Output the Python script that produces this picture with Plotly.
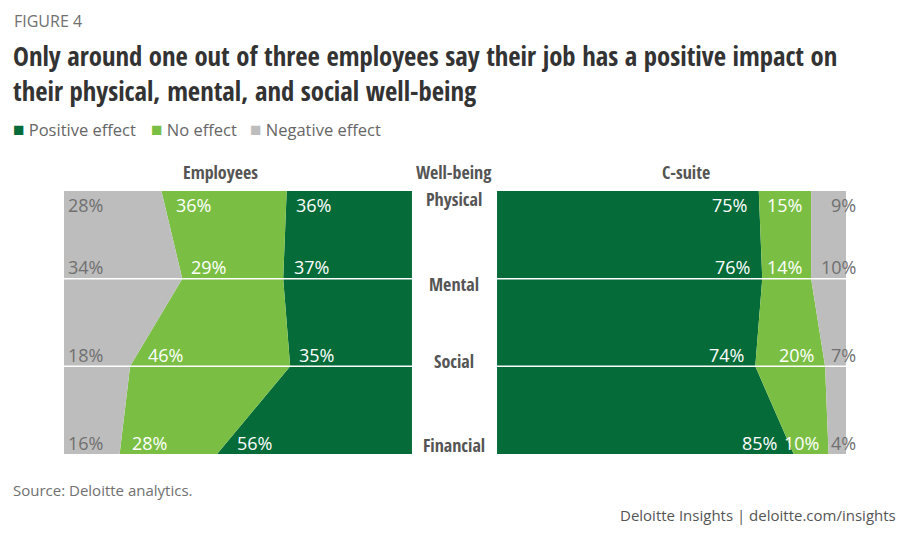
import plotly.graph_objects as go

# data
rows = ["Physical", "Mental", "Social", "Financial"]
emp_positive = [36, 37, 35, 56]
emp_none = [36, 29, 46, 28]
emp_negative = [28, 34, 18, 16]
cs_positive = [75, 76, 74, 85]
cs_none = [15, 14, 20, 10]
cs_negative = [9, 10, 7, 4]

DARK = "#056b38"
LIGHT = "#7abf43"
GREY = "#bdbdbd"
TXT = "#555555"
COND = "Open Sans Condensed, Roboto Condensed, Liberation Sans Narrow, DejaVu Sans Condensed, sans-serif"
BODY = "Open Sans, sans-serif"

ypos = list(range(len(rows)))


def panel(fig, pos, none, xa, ya):
    cum = [p + n for p, n in zip(pos, none)]
    full = [100] * len(pos)
    fig.add_trace(go.Scatter(x=pos, y=ypos, fill="tozerox", mode="none", fillcolor=DARK,
                             xaxis=xa, yaxis=ya, showlegend=False, hoverinfo="skip"))
    fig.add_trace(go.Scatter(x=cum, y=ypos, fill="tonextx", mode="none", fillcolor=LIGHT,
                             xaxis=xa, yaxis=ya, showlegend=False, hoverinfo="skip"))
    fig.add_trace(go.Scatter(x=full, y=ypos, fill="tonextx", mode="none", fillcolor=GREY,
                             xaxis=xa, yaxis=ya, showlegend=False, hoverinfo="skip"))
    return cum


fig = go.Figure()
emp_cum = panel(fig, emp_positive, emp_none, "x", "y")
cs_cum = panel(fig, cs_positive, cs_none, "x2", "y2")

ann = []


def label_pos(vals, i):
    # labels sit just below the first row and just above the others,
    # so follow the band edge to that height
    if i == 0:
        f, j = 0.16, 1
    else:
        f, j = 0.13, i - 1
    return vals[i] + f * (vals[j] - vals[i]), i + (f if i == 0 else -f)


def lab(text, x, y, xref, yref, anchor, xs, color):
    ann.append(dict(text=text, x=x, y=y, xref=xref, yref=yref, xanchor=anchor, yanchor="middle",
                    xshift=xs, showarrow=False,
                    font=dict(family=BODY, size=18, color=color)))


for i in range(len(rows)):
    # employees (axis reversed, labels sit at the left edge of each band)
    x, y = label_pos(emp_positive, i)
    lab(f"{emp_positive[i]}%", x, y, "x", "y", "left", 8, "white")
    x, y = label_pos(emp_cum, i)
    lab(f"{emp_none[i]}%", x, y, "x", "y", "left", 9, "white")
    lab(f"{emp_negative[i]}%", 100, y, "x", "y", "left", 2, "#707070")
    # c-suite (labels sit at the right edge of each band)
    x, y = label_pos(cs_positive, i)
    lab(f"{cs_positive[i]}%", x, y, "x2", "y2", "right", -10, "white")
    x, y = label_pos(cs_cum, i)
    lab(f"{cs_none[i]}%", x, y, "x2", "y2", "right", -7, "white")
    lab(f"{cs_negative[i]}%", 100, y, "x2", "y2", "right", 12, "#707070")

# centre row names
row_shift = [-8, -5, 5, 9]
for i, r in enumerate(rows):
    ann.append(dict(text=r, x=0.501, y=i, xref="paper", yref="y", xanchor="center", yanchor="middle",
                    yshift=row_shift[i], showarrow=False,
                    font=dict(family=COND, size=18, color=TXT, weight="bold")))

heads = [("Employees", 0.243), ("Well-being", 0.501), ("C-suite", 0.757)]
for t, x in heads:
    ann.append(dict(text=t, x=x, y=0.681, xref="paper", yref="paper", xanchor="center", yanchor="middle",
                    showarrow=False, font=dict(family=COND, size=18, color=TXT, weight="bold")))

ann.append(dict(text="FIGURE 4", x=0.013, y=0.962, xref="paper", yref="paper", xanchor="left",
                yanchor="middle", showarrow=False, font=dict(family=BODY, size=16, color="#707070")))
ann.append(dict(text="Only around one out of three employees say their job has a positive impact on<br>"
                     "their physical, mental, and social well-being",
                x=0.012, y=0.936, xref="paper", yref="paper", xanchor="left", yanchor="top", align="left",
                showarrow=False, font=dict(family=COND, size=26.7, color="#333333", weight="bold")))

legend = [("Positive effect", DARK, 0.012), ("No effect", LIGHT, 0.164), ("Negative effect", GREY, 0.274)]
for t, c, x in legend:
    ann.append(dict(text=f"<span style='color:{c};font-size:19px'>■</span> {t}", x=x, y=0.761,
                    xref="paper", yref="paper", xanchor="left", yanchor="middle", showarrow=False,
                    font=dict(family=BODY, size=16.5, color="#666666")))

ann.append(dict(text="Source: Deloitte analytics.", x=0.012, y=0.093, xref="paper", yref="paper",
                xanchor="left", yanchor="middle", showarrow=False,
                font=dict(family=BODY, size=15, color="#707070")))
ann.append(dict(text="Deloitte Insights | deloitte.com/insights", x=0.991, y=0.046, xref="paper", yref="paper",
                xanchor="right", yanchor="middle", showarrow=False,
                font=dict(family=BODY, size=15, color="#555555")))

# white separators at Mental and Social
shapes = []
for xr, yr in [("x domain", "y"), ("x2 domain", "y2")]:
    for i in (1, 2):
        shapes.append(dict(type="line", xref=xr, yref=yr, x0=0, x1=1, y0=i, y1=i,
                           line=dict(color="white", width=1.5)))

ydom = [0.1593, 0.6463]
fig.update_layout(
    width=906, height=540,
    margin=dict(l=0, r=0, t=0, b=0),
    paper_bgcolor="white", plot_bgcolor="white",
    xaxis=dict(domain=[0.0706, 0.4547], range=[100, 0], visible=False, fixedrange=True),
    xaxis2=dict(domain=[0.5486, 0.9338], range=[0, 100], visible=False, fixedrange=True),
    yaxis=dict(domain=ydom, range=[3, 0], visible=False, anchor="x", fixedrange=True),
    yaxis2=dict(domain=ydom, range=[3, 0], visible=False, anchor="x2", fixedrange=True),
    annotations=ann,
    shapes=shapes,
)

fig.write_html("out.html", config={"displayModeBar": False},
               post_script="document.body.style.margin='0px';")
